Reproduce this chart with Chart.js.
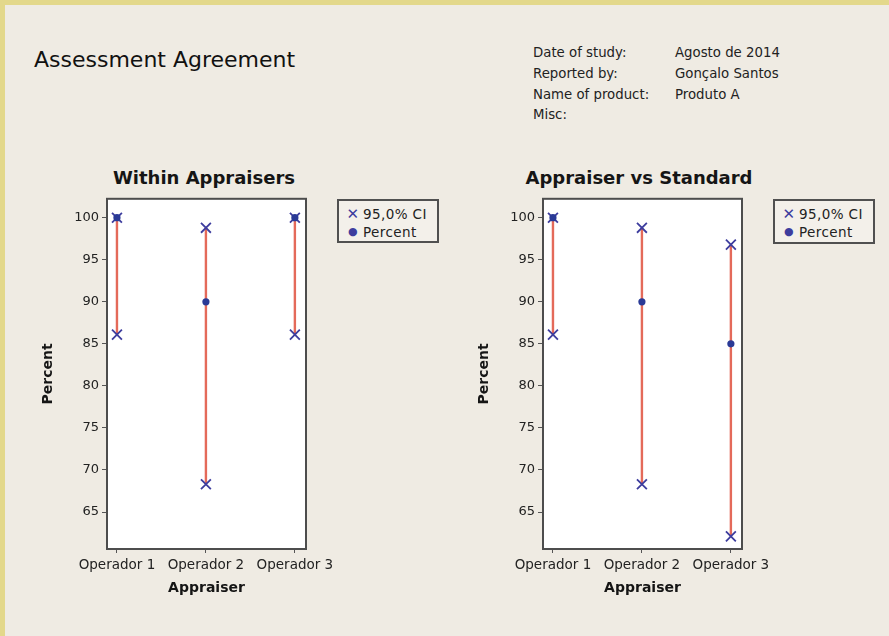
<!DOCTYPE html>
<html>
<head>
<meta charset="utf-8">
<script src="https://cdn.jsdelivr.net/npm/chart.js@4.4.1/dist/chart.umd.min.js"></script>
<style>
  html, body { margin: 0; padding: 0; }
  body { width: 889px; height: 636px; background: #e3d88b; position: relative; overflow: hidden;
         font-family: "DejaVu Sans", sans-serif; color: #1a1a1a; }
  #page { position: absolute; left: 5px; top: 5px; right: 0; bottom: 0; background: #efebe3; }
  .abs { position: absolute; white-space: nowrap; }
  #mainTitle { left: 34px; top: 47px; font-size: 22px; line-height: 26px; color: #111; }
  .hdr { font-size: 13.3px; line-height: 20.8px; color: #222; }
  .ctitle { font-size: 18px; font-weight: bold; line-height: 22px; transform: translateX(-50%); color: #151515; }
  .legend { border: 2px solid #505050; background: #f3f0ea; box-sizing: border-box; font-size: 13.5px; color: #222; letter-spacing: 0.4px; }
  .legend .row { position: absolute; left: 0; height: 16px; line-height: 16px; }
  .legend .mk { position: absolute; left: 7px; width: 14px; text-align: center; color: #3d3d9e; }
  .legend .tx { position: absolute; left: 24px; }
  canvas { position: absolute; }
</style>
</head>
<body>
<div id="page"></div>

<div id="mainTitle" class="abs">Assessment Agreement</div>
<div class="abs hdr" style="left:533px; top:43px;">Date of study:<br>Reported by:<br>Name of product:<br>Misc:</div>
<div class="abs hdr" style="left:675px; top:43px;">Agosto de 2014<br>Gonçalo Santos<br>Produto A</div>

<div class="abs ctitle" style="left:204px; top:167px;">Within Appraisers</div>
<div class="abs ctitle" style="left:639px; top:167px;">Appraiser vs Standard</div>

<canvas id="cWithin" width="345" height="420" style="left:20px; top:190px; width:345px; height:420px;"></canvas>
<canvas id="cStd" width="345" height="420" style="left:456px; top:190px; width:345px; height:420px;"></canvas>

<div class="abs legend" style="left:337px; top:199px; width:102px; height:44px;">
  <div class="row" style="top:5px;"><span class="mk" style="font-size:15px;">&#x2715;</span><span class="tx">95,0% CI</span></div>
  <div class="row" style="top:23px;"><span class="mk" style="font-size:11px;">&#x25CF;</span><span class="tx">Percent</span></div>
</div>
<div class="abs legend" style="left:773px; top:199px; width:102px; height:45px;">
  <div class="row" style="top:5px;"><span class="mk" style="font-size:15px;">&#x2715;</span><span class="tx">95,0% CI</span></div>
  <div class="row" style="top:23px;"><span class="mk" style="font-size:11px;">&#x25CF;</span><span class="tx">Percent</span></div>
</div>

<script>
// ── Data ─────────────────────────────────────────────────────────
const appraisers = ['Operador 1', 'Operador 2', 'Operador 3'];

const withinPct = [100, 90, 100];
const withinLo  = [86.1, 68.3, 86.1];
const withinHi  = [100, 98.8, 100];

const stdPct = [100, 90, 85];
const stdLo  = [86.1, 68.3, 62.1];
const stdHi  = [100, 98.8, 96.8];

const yTicks = [65, 70, 75, 80, 85, 90, 95, 100];
const xTicks = [1, 2, 3];

// ── Style ────────────────────────────────────────────────────────
const CI_LINE = '#e46a5a';
const CI_MARK = '#3d3d9e';
const PCT_DOT = '#2a3a96';
const AXIS    = '#555555';
const TEXT    = '#222222';

// fond blanc + cadre du graphique
const plotFrame = {
    id: 'plotFrame',
    beforeDraw(chart) {
        const { ctx, chartArea: a } = chart;
        ctx.save();
        ctx.fillStyle = '#ffffff';
        ctx.fillRect(a.left, a.top, a.right - a.left, a.bottom - a.top);
        ctx.restore();
    },
    afterDraw(chart) {
        const { ctx, chartArea: a } = chart;
        ctx.save();
        ctx.strokeStyle = '#4d4d4d';
        ctx.lineWidth = 2;
        ctx.strokeRect(a.left, a.top, a.right - a.left, a.bottom - a.top);
        ctx.restore();
    },
};

function buildChart(canvasId, pct, lo, hi) {
    const datasets = [{
        label: 'Percent',
        data: pct.map((v, i) => ({ x: i + 1, y: v })),
        showLine: false,
        pointStyle: 'circle',
        pointRadius: 3.6,
        pointBackgroundColor: PCT_DOT,
        pointBorderColor: PCT_DOT,
        pointBorderWidth: 0,
    }];
    appraisers.forEach((name, i) => {
        datasets.push({
            label: '95,0% CI ' + name,
            data: [{ x: i + 1, y: lo[i] }, { x: i + 1, y: hi[i] }],
            showLine: true,
            borderColor: CI_LINE,
            borderWidth: 2.4,
            pointStyle: 'crossRot',
            pointRadius: 7,
            pointBorderColor: CI_MARK,
            pointBorderWidth: 1.8,
        });
    });

    return new Chart(document.getElementById(canvasId), {
        type: 'scatter',
        data: { datasets },
        options: {
            responsive: false,
            animation: false,
            devicePixelRatio: 1,
            layout: { padding: { top: 8, right: 59, left: 0, bottom: 0 } },
            plugins: { legend: { display: false }, tooltip: { enabled: false } },
            scales: {
                x: {
                    type: 'linear',
                    min: 0.888,
                    max: 3.125,
                    afterBuildTicks: s => { s.ticks = xTicks.map(v => ({ value: v })); },
                    afterFit: s => { s.height = 61; s.paddingLeft = 0; s.paddingRight = 0; },
                    border: { display: false },
                    grid: { display: true, drawOnChartArea: false, drawTicks: true, tickLength: 4, color: AXIS },
                    ticks: {
                        padding: 4,
                        color: TEXT,
                        font: { family: 'DejaVu Sans', size: 13.5 },
                        maxRotation: 0,
                        autoSkip: false,
                        callback: v => appraisers[v - 1] || '',
                    },
                    title: {
                        display: true,
                        text: 'Appraiser',
                        color: '#151515',
                        font: { family: 'DejaVu Sans', size: 14, weight: 'bold' },
                        padding: { top: 0, bottom: 13 },
                    },
                },
                y: {
                    min: 60.6,
                    max: 102.25,
                    afterBuildTicks: s => { s.ticks = yTicks.map(v => ({ value: v })); },
                    afterFit: s => { s.width = 87; s.paddingTop = 0; s.paddingBottom = 0; },
                    border: { display: false },
                    grid: { display: true, drawOnChartArea: false, drawTicks: true, tickLength: 5, color: AXIS },
                    ticks: {
                        padding: 3,
                        color: TEXT,
                        font: { family: 'DejaVu Sans', size: 13 },
                    },
                    title: {
                        display: true,
                        text: 'Percent',
                        color: '#151515',
                        font: { family: 'DejaVu Sans', size: 14, weight: 'bold' },
                        padding: { top: 20, bottom: 0 },
                    },
                },
            },
        },
        plugins: [plotFrame],
    });
}

buildChart('cWithin', withinPct, withinLo, withinHi);
buildChart('cStd', stdPct, stdLo, stdHi);
</script>
</body>
</html>
